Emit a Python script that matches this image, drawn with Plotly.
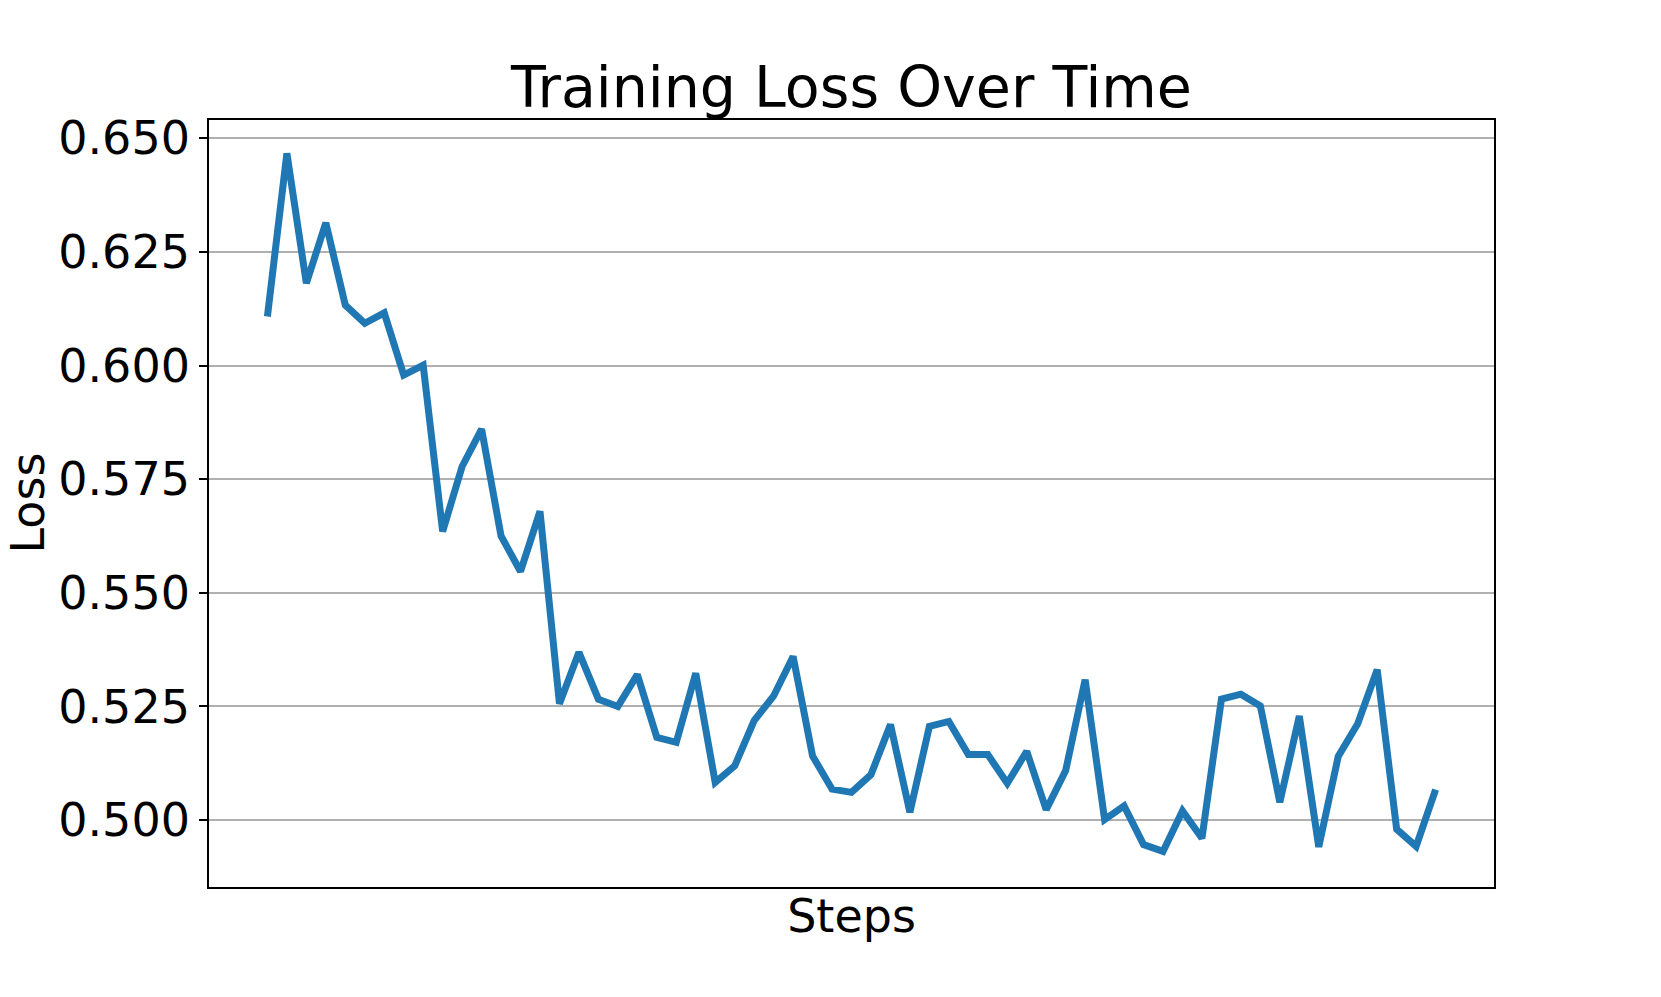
import plotly.graph_objects as go

steps = list(range(61))
loss = [0.6108, 0.6467, 0.6181, 0.6314, 0.6133, 0.6093, 0.6116, 0.5979, 0.6001, 0.5635,
        0.5778, 0.5860, 0.5625, 0.5547, 0.5679, 0.5256, 0.5369, 0.5266, 0.5250, 0.5320,
        0.5182, 0.5171, 0.5323, 0.5083, 0.5119, 0.5219, 0.5273, 0.5360, 0.5141, 0.5068,
        0.5061, 0.5100, 0.5210, 0.5017, 0.5206, 0.5217, 0.5144, 0.5144, 0.5081, 0.5151,
        0.5023, 0.5109, 0.5309, 0.5001, 0.5031, 0.4946, 0.4931, 0.5020, 0.4960, 0.5266,
        0.5277, 0.5251, 0.5039, 0.5229, 0.4941, 0.5140, 0.5212, 0.5331, 0.4980, 0.4942,
        0.5067]
y_ticks = [0.500, 0.525, 0.550, 0.575, 0.600, 0.625, 0.650]
y_tick_labels = ["0.500", "0.525", "0.550", "0.575", "0.600", "0.625", "0.650"]

FONT = "DejaVu Sans"

fig = go.Figure()
fig.add_trace(go.Scatter(x=steps, y=loss, mode="lines",
                         line=dict(color="#1f77b4", width=7),
                         showlegend=False))

fig.update_layout(
    width=1661, height=997,
    paper_bgcolor="white", plot_bgcolor="white",
    margin=dict(l=201, r=175, t=112, b=118),
    font=dict(family=FONT, color="black", size=46),
    title=dict(text="Training Loss Over Time", x=0.5, xanchor="center", xref="paper",
               y=1 - 79 / 997, yref="container", yanchor="middle",
               font=dict(family=FONT, size=57, color="black")),
    annotations=[dict(text="Loss", xref="paper", yref="paper", x=0, y=0.5,
                      xanchor="center", yanchor="middle", xshift=-182, borderpad=0,
                      textangle=-90, showarrow=False,
                      font=dict(family=FONT, size=46, color="black"))],
)
fig.update_xaxes(range=[-3, 63], showgrid=False, zeroline=False, automargin=False,
                 showticklabels=False, ticks="",
                 showline=True, linecolor="black", linewidth=1.7, mirror=True,
                 title=dict(text="Steps", font=dict(family=FONT, size=46), standoff=12))
fig.update_yaxes(range=[0.48527, 0.65403], zeroline=False, automargin=False,
                 tickvals=y_ticks, ticktext=y_tick_labels,
                 ticks="outside", ticklen=8, tickwidth=1.7, tickcolor="black",
                 showgrid=True, gridcolor="#b0b0b0", gridwidth=1.7,
                 showline=True, linecolor="black", linewidth=1.7, mirror=True,
                 tickfont=dict(family=FONT, size=46))

fig.write_html("out.html")
